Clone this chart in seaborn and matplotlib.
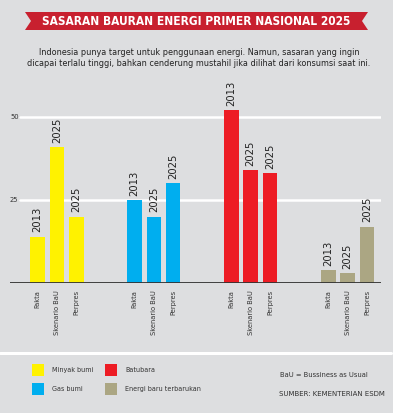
import pandas as pd
import matplotlib.pyplot as plt
import seaborn as sns
from matplotlib.patches import Polygon, Rectangle
from matplotlib.lines import Line2D

# data
groups = ["Minyak bumi", "Gas bumi", "Batubara", "Energi baru terbarukan"]
scenarios = ["Fakta", "Skenario BaU", "Perpres"]
years = ["2013", "2025", "2025"]
minyak = [14, 41, 20]
gas = [25, 20, 30]
batubara = [52, 34, 33]
ebt = [4, 3, 17]
yticks = [25, 50]
colors = ["#fff200", "#00aeef", "#ed1c24", "#aba683"]

title = "SASARAN BAURAN ENERGI PRIMER NASIONAL 2025"
subtitle = ("Indonesia punya target untuk penggunaan energi. Namun, sasaran yang ingin\n"
            "dicapai terlalu tinggi, bahkan cenderung mustahil jika dilihat dari konsumsi saat ini.")

rows = []
for gi, (g, vals) in enumerate(zip(groups, [minyak, gas, batubara, ebt])):
    for si, (s, y, v) in enumerate(zip(scenarios, years, vals)):
        rows.append({"group": g, "scenario": s, "year": y, "value": v, "pos": gi * 5 + si})
df = pd.DataFrame(rows)

sns.set_theme(style="white")
plt.rcParams['font.family'] = ['DejaVu Sans']
plt.rcParams['font.stretch'] = 'condensed'
bg = "#dddee0"
txt = "#333333"

W, H = 393, 413
fig = plt.figure(figsize=(W / 100, H / 100), dpi=100, facecolor=bg)

def fx(x):
    return x / W

def fy(y):
    return 1 - y / H

# axes placed in pixel terms: baseline at y=283, left at x=10, right at x=381
ymax = 58
ax = fig.add_axes([fx(10), fy(283), fx(381) - fx(10), (ymax * 3.32) / H])
ax.set_facecolor(bg)
sns.barplot(data=df, x="pos", y="value", hue="group", palette=colors, native_scale=True,
            dodge=False, width=0.75, saturation=1, legend=False, linewidth=0,
            edgecolor="none", ax=ax)
ax.set_xlim(-1.42, 17.72)
ax.set_ylim(0, ymax)
for s in ax.spines.values():
    s.set_visible(False)
ax.set_xlabel("")
ax.set_ylabel("")
ax.set_yticks([])
ax.set_xticks(df["pos"])
ax.set_xticklabels(df["scenario"], rotation=90, fontsize=5.3, color=txt, va="top")
ax.tick_params(axis="x", length=0, pad=5)

# gridlines and value-axis labels
for t in yticks:
    ax.axhline(t, xmin=10 / 371, xmax=1, color="white", lw=1.8, zorder=0)
    ax.text(0.0, t, str(t), transform=ax.get_yaxis_transform(), fontsize=5.3,
            color=txt, ha="left", va="center")
ax.axhline(0, color="#333333", lw=1.3, zorder=3)

# year labels above bars
for _, r in df.iterrows():
    ax.annotate(r["year"], (r["pos"], r["value"]), xytext=(0, 3), textcoords="offset points",
                rotation=90, ha="center", va="bottom", fontsize=8, color="#222222")

# title ribbon
rib = Polygon([(fx(25), fy(12)), (fx(368), fy(12)), (fx(362), fy(21)), (fx(368), fy(30)),
               (fx(25), fy(30)), (fx(31), fy(21))], closed=True, transform=fig.transFigure,
              facecolor="#c8202f", edgecolor="none")
fig.patches.append(rib)
fig.text(fx(196), fy(21.5), title, color="white", fontsize=8.6, fontweight="bold",
         ha="center", va="center")
fig.text(fx(199), fy(58), subtitle, ha="center", va="center", fontsize=6.5,
         color="#222222", linespacing=1.2)

# separator line
fig.lines.append(Line2D([0, fx(391)], [fy(353), fy(353)], transform=fig.transFigure,
                        color="white", lw=2.2))

# legend
leg_pos = [(32, 364), (32, 383), (105, 364), (105, 383)]
for (lx, ly), gi in zip(leg_pos, [0, 1, 2, 3]):
    fig.patches.append(Rectangle((fx(lx), fy(ly + 12)), 12 / W, 12 / H,
                                 transform=fig.transFigure, facecolor=colors[gi], edgecolor="none"))
    fig.text(fx(lx + 20), fy(ly + 6), groups[gi], fontsize=5.1, color=txt,
             ha="left", va="center")
fig.text(fx(280), fy(375), "BaU = Bussiness as Usual", fontsize=5.4, color=txt,
         ha="left", va="center")
fig.text(fx(279), fy(393.5), "SUMBER: KEMENTERIAN ESDM", fontsize=5, color=txt,
         ha="left", va="center", fontstretch="normal")

fig.savefig("out.png", dpi=100, facecolor=bg)
